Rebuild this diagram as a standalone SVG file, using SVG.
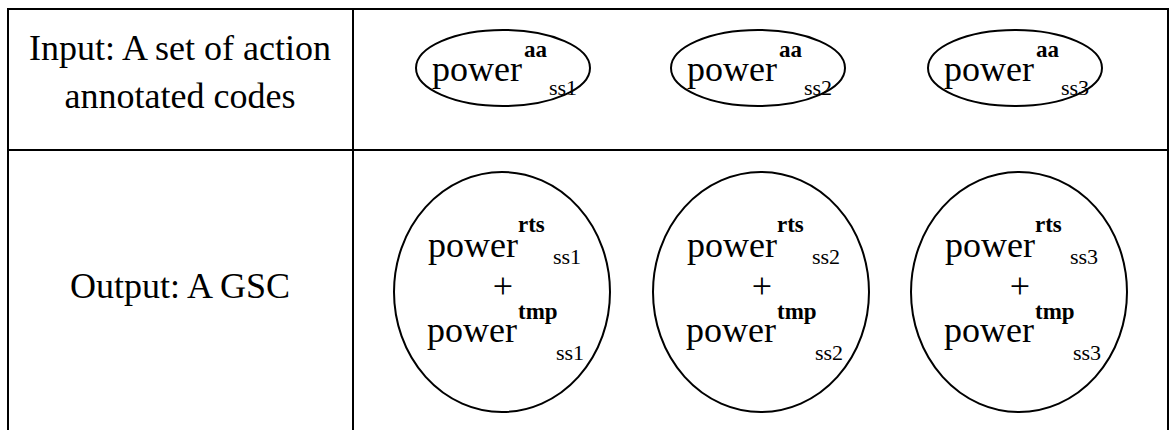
<svg xmlns="http://www.w3.org/2000/svg" width="1172" height="430" viewBox="0 0 1172 430">
  <style>
    .grid { fill: none; stroke: #000; stroke-width: 2; }
    .shape { fill: none; stroke: #000; stroke-width: 2; }
    text { fill: #000; }
    .lbl { font-size: 36px; }
    .mid { text-anchor: middle; }
    .sup { font-weight: bold; font-size: 23px; }
    .sub { font-size: 22px; }
  </style>
  <rect width="1172" height="430" fill="#fff"/>

  <!-- table frame -->
  <g id="table" class="grid">
    <path d="M8,432 V9 H1168 V432"/>
    <path d="M353,9 V432"/>
    <path d="M8,150 H1168"/>
  </g>

  <g font-family="'Liberation Serif', 'Times New Roman', Times, serif">
    <!-- row headers -->
    <g id="row-input">
      <text class="lbl mid" x="180" y="60">Input: A set of action</text>
      <text class="lbl mid" x="180" y="108">annotated codes</text>
    </g>
    <g id="row-output">
      <text class="lbl mid" x="180" y="298">Output: A GSC</text>
    </g>

    <!-- input codes -->
    <g id="in-ss1" transform="translate(503,0)">
      <ellipse class="shape" cx="0" cy="68" rx="87" ry="38"/>
      <text class="lbl" x="-71" y="81">power</text>
      <text class="sup" x="21" y="57">aa</text>
      <text class="sub" x="46" y="95">ss1</text>
    </g>
    <g id="in-ss2" transform="translate(758,0)">
      <ellipse class="shape" cx="0" cy="68" rx="87" ry="38"/>
      <text class="lbl" x="-71" y="81">power</text>
      <text class="sup" x="21" y="57">aa</text>
      <text class="sub" x="46" y="95">ss2</text>
    </g>
    <g id="in-ss3" transform="translate(1015,0)">
      <ellipse class="shape" cx="0" cy="68" rx="87" ry="38"/>
      <text class="lbl" x="-71" y="81">power</text>
      <text class="sup" x="21" y="57">aa</text>
      <text class="sub" x="46" y="95">ss3</text>
    </g>

    <!-- output GSC -->
    <g id="out-ss1" transform="translate(502,0)">
      <ellipse class="shape" cx="0" cy="292" rx="108" ry="120"/>
      <text class="lbl" x="-74" y="257">power</text>
      <text class="sup" x="16" y="232">rts</text>
      <text class="sub" x="51" y="264">ss1</text>
      <text class="lbl mid" x="1" y="298">+</text>
      <text class="lbl" x="-75" y="342">power</text>
      <text class="sup" x="16" y="319">tmp</text>
      <text class="sub" x="54" y="360">ss1</text>
    </g>
    <g id="out-ss2" transform="translate(761,0)">
      <ellipse class="shape" cx="0" cy="292" rx="108" ry="120"/>
      <text class="lbl" x="-74" y="257">power</text>
      <text class="sup" x="16" y="232">rts</text>
      <text class="sub" x="51" y="264">ss2</text>
      <text class="lbl mid" x="1" y="298">+</text>
      <text class="lbl" x="-75" y="342">power</text>
      <text class="sup" x="16" y="319">tmp</text>
      <text class="sub" x="54" y="360">ss2</text>
    </g>
    <g id="out-ss3" transform="translate(1019,0)">
      <ellipse class="shape" cx="0" cy="292" rx="108" ry="120"/>
      <text class="lbl" x="-74" y="257">power</text>
      <text class="sup" x="16" y="232">rts</text>
      <text class="sub" x="51" y="264">ss3</text>
      <text class="lbl mid" x="1" y="298">+</text>
      <text class="lbl" x="-75" y="342">power</text>
      <text class="sup" x="16" y="319">tmp</text>
      <text class="sub" x="54" y="360">ss3</text>
    </g>
  </g>
</svg>
